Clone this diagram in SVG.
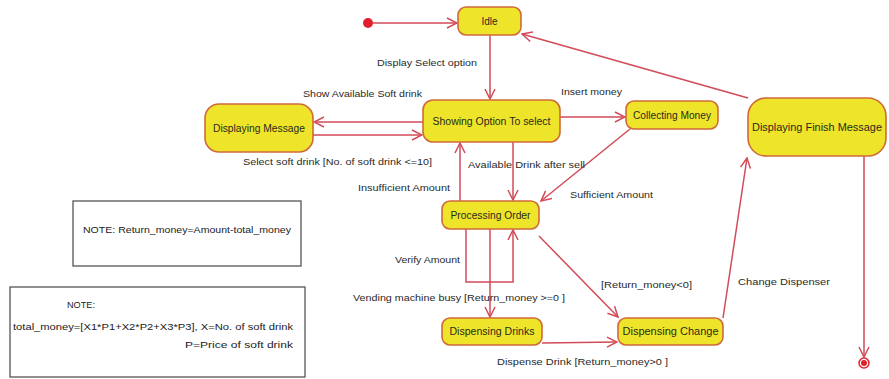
<svg xmlns="http://www.w3.org/2000/svg" width="889" height="379" viewBox="0 0 889 379">
  <style>
    .state { fill: #eee52a; stroke: #cf6a3a; stroke-width: 1.6; }
    .name { font-family: "Liberation Sans", Arial, sans-serif; font-size: 10px; fill: #2a2a1a; text-anchor: middle; }
    .edge { fill: none; stroke: #d24b58; stroke-width: 1.5; }
    .label { font-family: "Liberation Sans", Arial, sans-serif; font-size: 9.5px; fill: #2a2a2a; }
    .note { fill: #ffffff; stroke: #555555; stroke-width: 1.3; }
    .notetext { font-family: "Liberation Sans", Arial, sans-serif; font-size: 9px; fill: #222222; }
  </style>
  <defs>
    <marker id="open" viewBox="0 0 12 12" refX="11" refY="6" markerWidth="12" markerHeight="12" markerUnits="userSpaceOnUse" orient="auto">
      <polyline points="1,1 11,6 1,11" fill="none" stroke="#d24b58" stroke-width="1.5"/>
    </marker>
  </defs>
  <rect width="889" height="379" fill="#ffffff"/>

  <!-- transitions -->
  <g id="connectors">
    <line class="edge" x1="373" y1="23" x2="457" y2="23" marker-end="url(#open)"/>
    <line class="edge" x1="490" y1="35" x2="490" y2="99" marker-end="url(#open)"/>
    <line class="edge" x1="423" y1="122" x2="314" y2="122" marker-end="url(#open)"/>
    <line class="edge" x1="313" y1="135" x2="422" y2="135" marker-end="url(#open)"/>
    <line class="edge" x1="560" y1="117" x2="625" y2="117" marker-end="url(#open)"/>
    <line class="edge" x1="630" y1="129" x2="541" y2="201" marker-end="url(#open)"/>
    <line class="edge" x1="513" y1="142" x2="513" y2="200" marker-end="url(#open)"/>
    <line class="edge" x1="460" y1="201" x2="460" y2="143" marker-end="url(#open)"/>
    <polyline class="edge" points="466,229 466,282 513,282 513,230" marker-end="url(#open)"/>
    <line class="edge" x1="490" y1="229" x2="490" y2="317" marker-end="url(#open)"/>
    <line class="edge" x1="539" y1="236" x2="618" y2="317" marker-end="url(#open)"/>
    <line class="edge" x1="542" y1="343" x2="617" y2="342" marker-end="url(#open)"/>
    <line class="edge" x1="723" y1="318" x2="747" y2="158" marker-end="url(#open)"/>
    <line class="edge" x1="748" y1="98" x2="522" y2="34" marker-end="url(#open)"/>
    <line class="edge" x1="864" y1="156" x2="864" y2="357" marker-end="url(#open)"/>

    <text class="label" x="377" y="66" textLength="100" lengthAdjust="spacingAndGlyphs">Display Select option</text>
    <text class="label" x="303" y="97" textLength="119" lengthAdjust="spacingAndGlyphs">Show Available Soft drink</text>
    <text class="label" x="243" y="165" textLength="189" lengthAdjust="spacingAndGlyphs">Select soft drink [No. of soft drink &lt;=10]</text>
    <text class="label" x="561" y="95" textLength="61" lengthAdjust="spacingAndGlyphs">Insert money</text>
    <text class="label" x="468" y="168" textLength="117" lengthAdjust="spacingAndGlyphs">Available Drink after sell</text>
    <text class="label" x="358" y="191" textLength="92" lengthAdjust="spacingAndGlyphs">Insufficient Amount</text>
    <text class="label" x="570" y="198" textLength="83" lengthAdjust="spacingAndGlyphs">Sufficient Amount</text>
    <text class="label" x="395" y="263" textLength="65" lengthAdjust="spacingAndGlyphs">Verify Amount</text>
    <text class="label" x="353" y="301" textLength="212" lengthAdjust="spacingAndGlyphs">Vending machine busy [Return_money &gt;=0 ]</text>
    <text class="label" x="601" y="288" textLength="91" lengthAdjust="spacingAndGlyphs">[Return_money&lt;0]</text>
    <text class="label" x="497" y="365" textLength="171" lengthAdjust="spacingAndGlyphs">Dispense Drink [Return_money&gt;0 ]</text>
    <text class="label" x="738" y="285" textLength="92" lengthAdjust="spacingAndGlyphs">Change Dispenser</text>
  </g>

  <!-- states -->
  <g id="start">
    <circle cx="368" cy="23" r="5" fill="#e0202c"/>
  </g>
  <g id="idle">
    <rect class="state" x="458" y="7" width="63" height="28" rx="8"/>
    <text class="name" x="489.5" y="24.5">Idle</text>
  </g>
  <g id="showing-option">
    <rect class="state" x="423" y="100" width="137" height="42" rx="10"/>
    <text class="name" x="491.5" y="124.5" textLength="118" lengthAdjust="spacingAndGlyphs">Showing Option To select</text>
  </g>
  <g id="displaying-message">
    <rect class="state" x="205" y="104" width="108" height="48" rx="14"/>
    <text class="name" x="259" y="131.5" textLength="92" lengthAdjust="spacingAndGlyphs">Displaying Message</text>
  </g>
  <g id="collecting-money">
    <rect class="state" x="626" y="101" width="92" height="28" rx="8"/>
    <text class="name" x="672" y="118.5" textLength="78" lengthAdjust="spacingAndGlyphs">Collecting Money</text>
  </g>
  <g id="displaying-finish">
    <rect class="state" x="748" y="98" width="138" height="58" rx="18"/>
    <text class="name" x="817" y="130.5" textLength="130" lengthAdjust="spacingAndGlyphs">Displaying Finish Message</text>
  </g>
  <g id="processing-order">
    <rect class="state" x="442" y="201" width="97" height="28" rx="8"/>
    <text class="name" x="490.5" y="218.5" textLength="80" lengthAdjust="spacingAndGlyphs">Processing Order</text>
  </g>
  <g id="dispensing-drinks">
    <rect class="state" x="442" y="318" width="100" height="27" rx="8"/>
    <text class="name" x="492" y="335" textLength="85" lengthAdjust="spacingAndGlyphs">Dispensing Drinks</text>
  </g>
  <g id="dispensing-change">
    <rect class="state" x="618" y="318" width="105" height="27" rx="8"/>
    <text class="name" x="670.5" y="335" textLength="96" lengthAdjust="spacingAndGlyphs">Dispensing Change</text>
  </g>
  <g id="final">
    <circle cx="864" cy="363" r="5" fill="#ffffff" stroke="#e0202c" stroke-width="1.5"/>
    <circle cx="864" cy="363" r="3" fill="#e0202c"/>
  </g>

  <!-- notes -->
  <g id="note-return">
    <rect class="note" x="73" y="201" width="228" height="65"/>
    <text class="notetext" x="83" y="233" textLength="208" lengthAdjust="spacingAndGlyphs">NOTE: Return_money=Amount-total_money</text>
  </g>
  <g id="note-total">
    <rect class="note" x="10" y="287" width="295" height="90"/>
    <text class="notetext" x="67" y="308" textLength="28" lengthAdjust="spacingAndGlyphs">NOTE:</text>
    <text class="notetext" x="13" y="330" textLength="280" lengthAdjust="spacingAndGlyphs">total_money=[X1*P1+X2*P2+X3*P3], X=No. of soft drink</text>
    <text class="notetext" x="185" y="348" textLength="108" lengthAdjust="spacingAndGlyphs">P=Price of soft drink</text>
  </g>
</svg>
